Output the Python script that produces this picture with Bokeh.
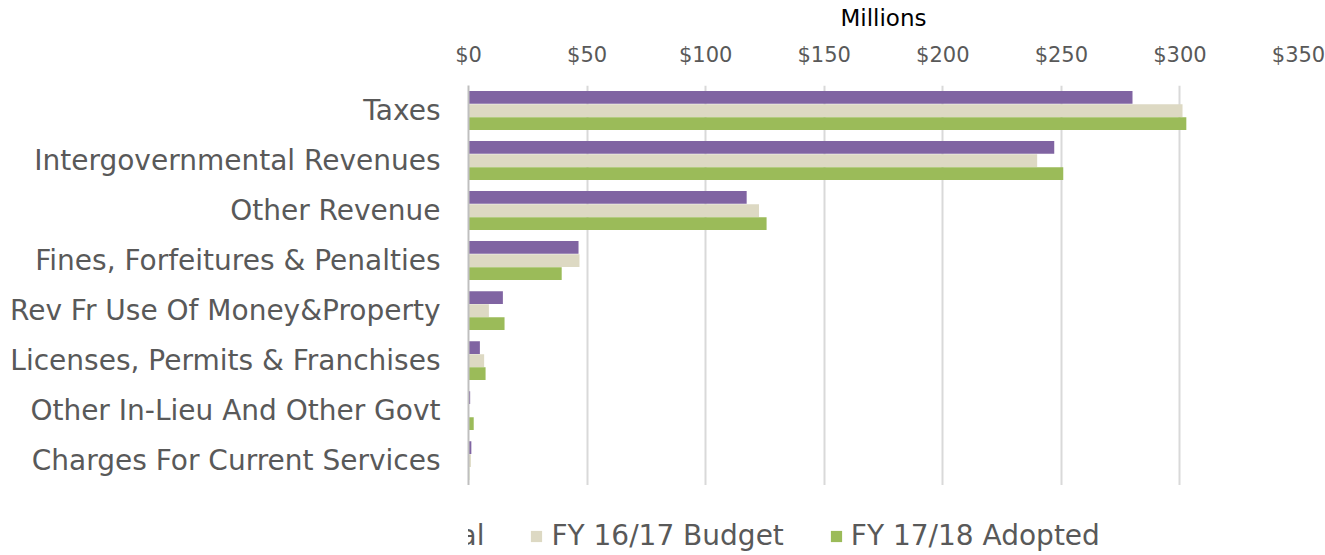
from bokeh.plotting import figure
from bokeh.layouts import column
from bokeh.models import (ColumnDataSource, FactorRange, Range1d, LinearAxis, CategoricalAxis,
                          FixedTicker, PrintfTickFormatter, Legend, LegendItem)
from bokeh.transform import dodge
from bokeh.embed import file_html
from bokeh.resources import INLINE

categories = ["Taxes", "Intergovernmental Revenues", "Other Revenue",
              "Fines, Forfeitures & Penalties", "Rev Fr Use Of Money&Property",
              "Licenses, Permits & Franchises", "Other In-Lieu And Other Govt",
              "Charges For Current Services"]
actual_15_16 = [280.0, 247.0, 117.3, 46.4, 14.5, 4.8, 0.7, 1.2]
budget_16_17 = [301.1, 239.8, 122.5, 46.8, 8.6, 6.6, 0.1, 1.0]
adopted_17_18 = [302.7, 250.8, 125.7, 39.3, 15.2, 7.2, 2.2, 0.3]
series_names = ["FY 15/16 Actual", "FY 16/17 Budget", "FY 17/18 Adopted"]
x_ticks = [0, 50, 100, 150, 200, 250, 300, 350]
axis_title = "Millions"

FONT = "DejaVu Sans"
GRAY = "#595959"
colors = ["#8064a2", "#ddd9c3", "#9bbb59"]

source = ColumnDataSource(dict(cat=categories, a=actual_15_16, b=budget_16_17, c=adopted_17_18))

# main chart
p = figure(width=1325, height=485, output_backend="svg", toolbar_location=None,
           y_range=FactorRange(*reversed(categories)), x_range=Range1d(0, 350),
           x_axis_location=None, y_axis_location=None,
           min_border_left=468, min_border_right=27, min_border_top=85, min_border_bottom=0)
p.outline_line_color = None

offsets = [0.26, 0.0, -0.26]
for col, off, color in zip(["a", "b", "c"], offsets, colors):
    p.hbar(y=dodge("cat", off, range=p.y_range), right=col, left=0, height=0.255,
           source=source, fill_color=color, line_color=None)

xaxis = LinearAxis(ticker=FixedTicker(ticks=x_ticks), formatter=PrintfTickFormatter(format="$%d"),
                   axis_label=axis_title)
xaxis.axis_line_color = None
xaxis.major_tick_line_color = None
xaxis.minor_tick_line_color = None
xaxis.major_label_text_font = FONT
xaxis.major_label_text_font_size = "21px"
xaxis.major_label_text_color = GRAY
xaxis.major_label_standoff = 13
xaxis.axis_label_text_font = FONT
xaxis.axis_label_text_font_size = "23px"
xaxis.axis_label_text_font_style = "normal"
xaxis.axis_label_text_color = "#000000"
xaxis.axis_label_standoff = 9
p.add_layout(xaxis, "above")

yaxis = CategoricalAxis()
yaxis.axis_line_color = "#bfbfbf"
yaxis.axis_line_width = 2
yaxis.major_tick_line_color = None
yaxis.minor_tick_line_color = None
yaxis.major_label_text_font = FONT
yaxis.major_label_text_font_size = "28px"
yaxis.major_label_text_color = GRAY
yaxis.major_label_standoff = 22
p.add_layout(yaxis, "left")

p.xgrid.ticker = FixedTicker(ticks=x_ticks)
p.xgrid.grid_line_color = "#d9d9d9"
p.xgrid.grid_line_width = 2
p.ygrid.grid_line_color = None

# legend strip
p2 = figure(width=1325, height=70, output_backend="svg", toolbar_location=None,
            x_range=Range1d(0, 1), y_range=Range1d(0, 1),
            x_axis_location=None, y_axis_location=None,
            min_border_left=0, min_border_right=0, min_border_top=0, min_border_bottom=0)
p2.outline_line_color = None
p2.xgrid.visible = False
p2.ygrid.visible = False

legend_renderers = []
for col, color in zip(["a", "b", "c"], colors):
    # same series values, placed outside the visible strip; only used for the legend swatches
    r = p2.hbar(y=-5, right=col, left=0, height=0.2, source=source,
                fill_color=color, line_color=None)
    legend_renderers.append(r)

legend = Legend(items=[LegendItem(label=n, renderers=[r]) for n, r in zip(series_names, legend_renderers)],
                orientation="horizontal", location=(-225, 3))
legend.label_text_font = FONT
legend.label_text_font_size = "28px"
legend.label_text_color = GRAY
legend.glyph_width = 14
legend.glyph_height = 14
legend.spacing = 45
legend.label_standoff = 8
legend.border_line_color = None
legend.background_fill_alpha = 0
legend.margin = 0
legend.padding = 0
p2.add_layout(legend)

layout = column(p, p2, spacing=0)

open("out.html", "w").write(file_html(layout, INLINE))
